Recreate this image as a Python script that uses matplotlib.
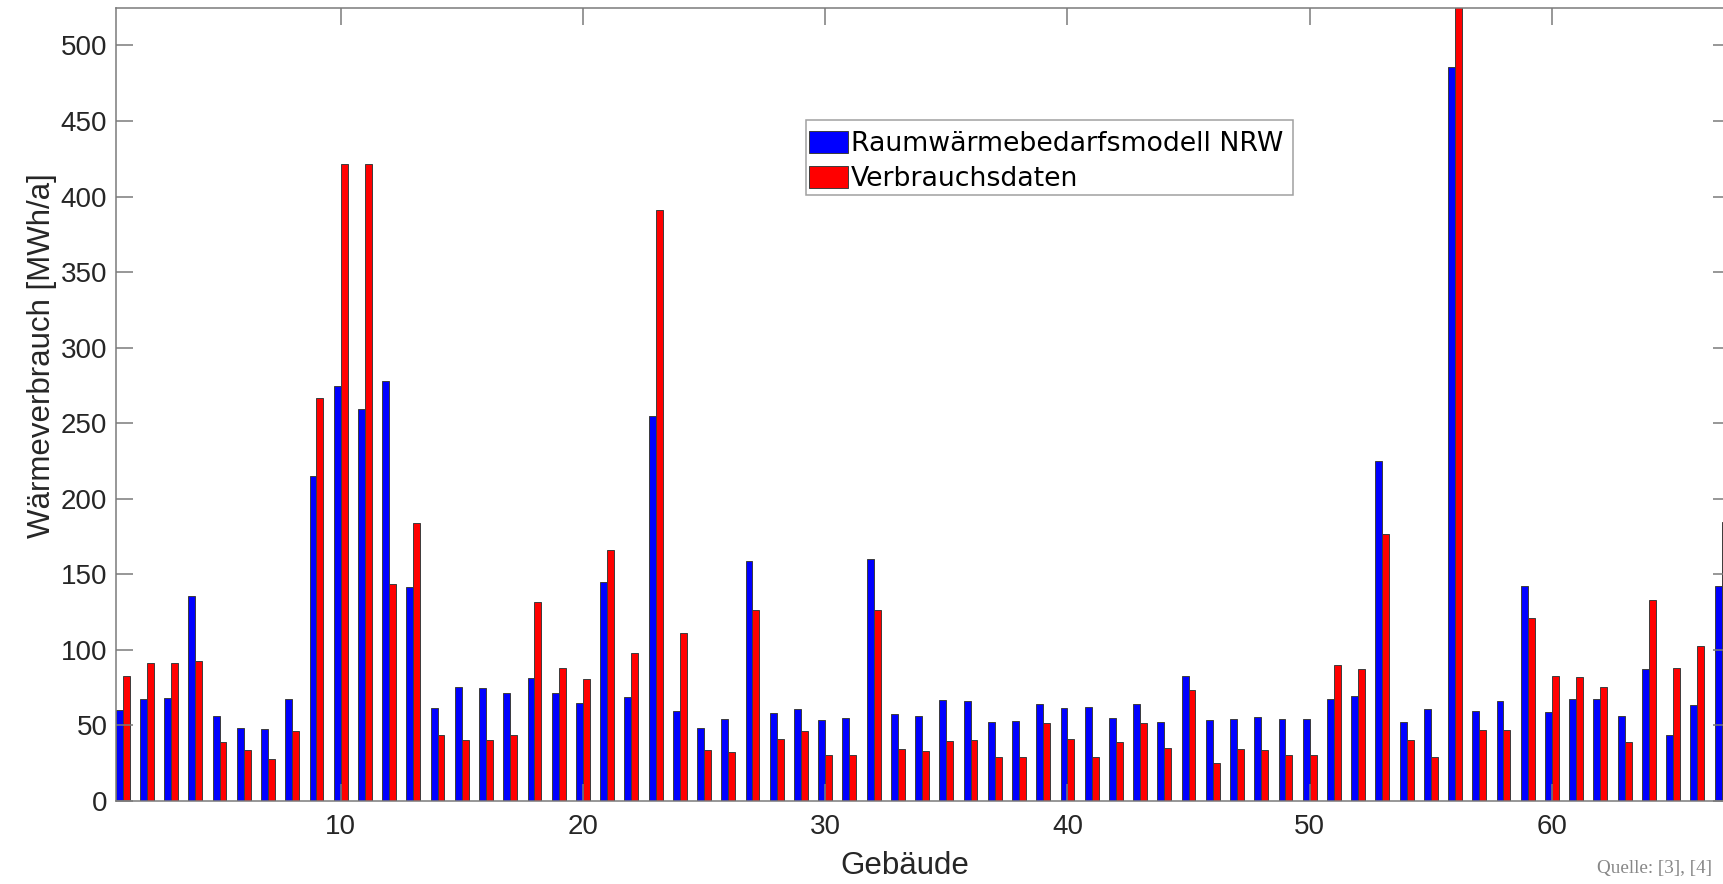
import matplotlib
matplotlib.use("Agg")
import matplotlib.pyplot as plt
from matplotlib.patches import Rectangle
import numpy as np

gebaeude = list(range(1, 68))
modell_nrw = [60.0, 67.8, 68.2, 135.8, 56.1, 48.1, 47.5, 67.3, 214.8, 274.6,
              259.4, 277.7, 141.7, 61.4, 75.5, 75.1, 71.3, 81.7, 71.3, 65.1,
              144.8, 68.7, 254.5, 59.4, 48.1, 54.5, 158.7, 58.1, 61.1, 53.4,
              54.7, 160.0, 57.4, 56.1, 66.7, 66.0, 52.5, 53.2, 64.0, 61.4,
              62.5, 54.7, 64.0, 52.1, 82.6, 53.6, 54.5, 55.4, 54.1, 54.5,
              67.8, 69.8, 224.7, 52.5, 60.7, 485.5, 59.4, 66.0, 142.2, 58.9,
              67.8, 67.3, 56.1, 87.2, 43.5, 63.4, 142.0]
verbrauch = [83.0, 91.2, 91.2, 92.5, 38.9, 33.8, 27.6, 46.1, 266.9, 421.8,
             421.8, 143.5, 183.7, 43.7, 40.4, 40.4, 43.7, 132.0, 87.9, 80.6,
             166.2, 98.2, 391.2, 111.0, 33.8, 32.7, 126.3, 41.3, 46.1, 30.5,
             30.5, 126.3, 34.2, 32.9, 40.0, 40.2, 29.4, 29.4, 51.4, 41.3,
             29.4, 38.9, 51.4, 35.1, 73.5, 24.9, 34.2, 33.8, 30.7, 30.7,
             89.8, 87.4, 177.0, 40.2, 29.4, 560.0, 46.8, 46.8, 121.2, 82.6,
             82.1, 75.5, 38.9, 132.9, 88.3, 102.9, 184.5]
labels = ["Raumwärmebedarfsmodell NRW", "Verbrauchsdaten"]
x_ticks = [10, 20, 30, 40, 50, 60]
y_ticks = list(range(0, 501, 50))

W, H = 1724, 884
fig = plt.figure(figsize=(W / 100, H / 100), dpi=100)
fig.patch.set_facecolor("white")

left, right = 115.7, 1730.0
top, bottom = 7.7, 801.0
ax = fig.add_axes([left / W, (H - bottom) / H, (right - left) / W, (bottom - top) / H])


def ax_x(px):
    return (px - left) / (right - left)


def ax_y(py):
    return (bottom - py) / (bottom - top)


x = np.array(gebaeude, dtype=float)
bw = 0.2857
edge = "#3c3c3c"
ax.bar(x - bw / 2, modell_nrw, width=bw, color="#0000ff", edgecolor=edge,
       linewidth=0.7, label=labels[0])
ax.bar(x + bw / 2, verbrauch, width=bw, color="#ff0000", edgecolor=edge,
       linewidth=0.7, label=labels[1])

ax.set_xlim(0.714, 67.35)
ax.set_ylim(0, 525)
ax.set_xticks(x_ticks)
ax.set_yticks(y_ticks)

tick_font = dict(family=["Liberation Sans", "DejaVu Sans"], size=20)
ax.set_xticklabels([str(t) for t in x_ticks], **tick_font)
ax.set_yticklabels([str(t) for t in y_ticks], **tick_font)

axis_col = "#7a7a7a"
for s in ax.spines.values():
    s.set_color(axis_col)
    s.set_linewidth(1.1)
ax.tick_params(axis="both", which="major", direction="in", length=12.5, width=1.1,
               color=axis_col, labelcolor="#262626", top=True, right=True)
ax.tick_params(axis="x", pad=9)
ax.tick_params(axis="y", pad=6)

label_font = dict(family=["Liberation Sans", "DejaVu Sans"], size=22.5, color="#262626")
ax.set_xlabel("Gebäude", **label_font)
ax.xaxis.set_label_coords(ax_x(904.5), ax_y(851))
ax.set_ylabel("Wärmeverbrauch [MWh/a]", **label_font)
ax.yaxis.set_label_coords(ax_x(57), ax_y(356))

# legend frame (MATLAB style box)
fx0, fx1, fy0, fy1 = 805.7, 1293.3, 120.0, 195.0
frame = Rectangle((ax_x(fx0), ax_y(fy1)), ax_x(fx1) - ax_x(fx0), ax_y(fy0) - ax_y(fy1),
                  transform=ax.transAxes, facecolor="white", edgecolor="#a0a0a0",
                  linewidth=1.1, zorder=4.9)
ax.add_patch(frame)
leg = ax.legend(loc="center left", bbox_to_anchor=(ax_x(809), ax_y(158.5 + 3.3)),
                borderaxespad=0, borderpad=0, frameon=False,
                prop=dict(family=["DejaVu Sans"], size=19.3),
                handlelength=1.47, handleheight=0.86, handletextpad=0.08,
                labelspacing=0.33)
leg.set_zorder(5)

fig.text(1712 / W, (H - 869) / H, "Quelle: [3], [4]", ha="right", va="center",
         family=["Liberation Serif", "DejaVu Serif"], size=13.8, color="#888888")

fig.savefig("out.png", dpi=100, facecolor="white")
